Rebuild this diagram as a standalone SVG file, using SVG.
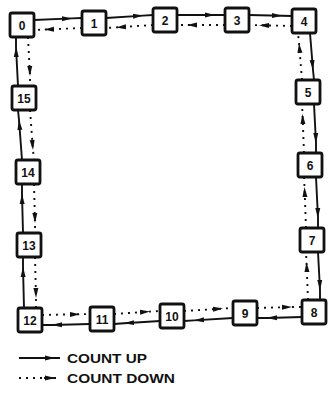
<svg xmlns="http://www.w3.org/2000/svg" width="336" height="395" viewBox="0 0 336 395">
<defs>
<marker id="ah" markerUnits="userSpaceOnUse" markerWidth="12" markerHeight="8" refX="10" refY="4" orient="auto">
<path d="M0,1.5 L10,4 L0,6.5 z" fill="#111"/>
</marker>
<style>
.bx{fill:#fff;stroke:#111;stroke-width:2.8}
.lb{font-family:"Liberation Sans",Arial,sans-serif;font-weight:bold;font-size:12px;fill:#111;text-anchor:middle}
.up{fill:none;stroke:#111;stroke-width:1.9;marker-mid:url(#ah)}
.dn{fill:none;stroke:#111;stroke-width:1.9;stroke-dasharray:2 5;marker-mid:url(#ah)}
.lg{font-family:"Liberation Sans",Arial,sans-serif;font-weight:bold;font-size:13px;fill:#111}
</style>
</defs>
<rect width="336" height="395" fill="#fff"/>
<g id="connectors">
<polyline class="up" points="34,20 72,18.4 82,18"/>
<polyline class="dn" points="82,28 44,29.6 34,30"/>
<polyline class="up" points="106,18 143,15.6 153,15"/>
<polyline class="dn" points="153,25 116,27.4 106,28"/>
<polyline class="up" points="177,15 215,15 225,15"/>
<polyline class="dn" points="225,25 187,25 177,25"/>
<polyline class="up" points="249,15 282,15.8 292,16"/>
<polyline class="dn" points="292,26 259,25.2 249,25"/>
<polyline class="up" points="310,33 313,70 314,80"/>
<polyline class="dn" points="302,80 299,43 298,33"/>
<polyline class="up" points="314,104 316,143 316,153"/>
<polyline class="dn" points="304,153 302.5,114 302,104"/>
<polyline class="up" points="316,177 318,218 318,228"/>
<polyline class="dn" points="306,228 304.5,187 304,177"/>
<polyline class="up" points="318,252 320,290 320,300"/>
<polyline class="dn" points="308,300 306.5,262 306,252"/>
<polyline class="up" points="302,317 267,318 257,318"/>
<polyline class="dn" points="257,308 292,307 302,307"/>
<polyline class="up" points="233,318 194,320.4 184,321"/>
<polyline class="dn" points="184,311 223,308.6 233,308"/>
<polyline class="up" points="160,321 124,323.3 114,324"/>
<polyline class="dn" points="114,314 150,311.6 160,311"/>
<polyline class="up" points="90,324 52,325 42,325"/>
<polyline class="dn" points="42,315 80,314.2 90,314"/>
<polyline class="up" points="24,308 23,267 23,257"/>
<polyline class="dn" points="35,257 36,298 36,308"/>
<polyline class="up" points="23,233 22,194 22,184"/>
<polyline class="dn" points="34,184 35,223 35,233"/>
<polyline class="up" points="22,160 19,120 18,110"/>
<polyline class="dn" points="30,110 33,150 34,160"/>
<polyline class="up" points="18,86 16,47 16,37"/>
<polyline class="dn" points="28,37 30,76 30,86"/>
</g>
<g id="n0"><rect class="bx" x="10" y="13" width="24" height="24" rx="2"/><text class="lb" x="22" y="29.5">0</text></g>
<g id="n1"><rect class="bx" x="82" y="11" width="24" height="24" rx="2"/><text class="lb" x="94" y="27.5">1</text></g>
<g id="n2"><rect class="bx" x="153" y="8" width="24" height="24" rx="2"/><text class="lb" x="165" y="24.5">2</text></g>
<g id="n3"><rect class="bx" x="225" y="8" width="24" height="24" rx="2"/><text class="lb" x="237" y="24.5">3</text></g>
<g id="n4"><rect class="bx" x="292" y="9" width="24" height="24" rx="2"/><text class="lb" x="304" y="25.5">4</text></g>
<g id="n5"><rect class="bx" x="296" y="80" width="24" height="24" rx="2"/><text class="lb" x="308" y="96.5">5</text></g>
<g id="n6"><rect class="bx" x="298" y="153" width="24" height="24" rx="2"/><text class="lb" x="310" y="169.5">6</text></g>
<g id="n7"><rect class="bx" x="300" y="228" width="24" height="24" rx="2"/><text class="lb" x="312" y="244.5">7</text></g>
<g id="n8"><rect class="bx" x="302" y="300" width="24" height="24" rx="2"/><text class="lb" x="314" y="316.5">8</text></g>
<g id="n9"><rect class="bx" x="233" y="301" width="24" height="24" rx="2"/><text class="lb" x="245" y="317.5">9</text></g>
<g id="n10"><rect class="bx" x="160" y="304" width="24" height="24" rx="2"/><text class="lb" x="172" y="320.5">10</text></g>
<g id="n11"><rect class="bx" x="90" y="307" width="24" height="24" rx="2"/><text class="lb" x="102" y="323.5">11</text></g>
<g id="n12"><rect class="bx" x="18" y="308" width="24" height="24" rx="2"/><text class="lb" x="30" y="324.5">12</text></g>
<g id="n13"><rect class="bx" x="17" y="233" width="24" height="24" rx="2"/><text class="lb" x="29" y="249.5">13</text></g>
<g id="n14"><rect class="bx" x="16" y="160" width="24" height="24" rx="2"/><text class="lb" x="28" y="176.5">14</text></g>
<g id="n15"><rect class="bx" x="12" y="86" width="24" height="24" rx="2"/><text class="lb" x="24" y="102.5">15</text></g>
<g id="legend">
<polyline class="up" points="19,358 55,358 60,358"/>
<text class="lg" x="67" y="362.5" textLength="80" lengthAdjust="spacingAndGlyphs">COUNT UP</text>
<polyline class="dn" points="19,378 55,378 60,378"/>
<line x1="44" y1="378" x2="56" y2="378" stroke="#111" stroke-width="1.9"/>
<text class="lg" x="67" y="383" textLength="108" lengthAdjust="spacingAndGlyphs">COUNT DOWN</text>
</g>
</svg>
